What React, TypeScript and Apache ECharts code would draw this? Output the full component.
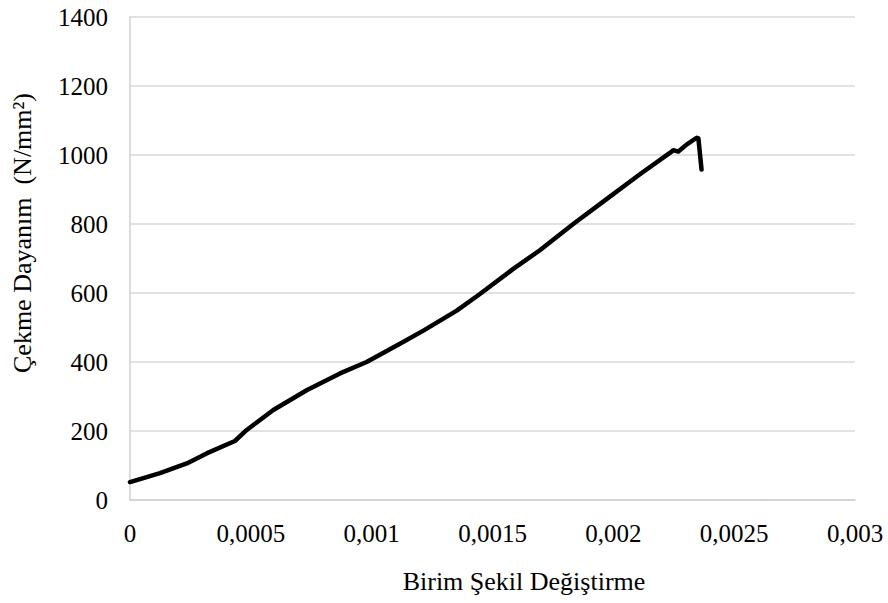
import React, { useEffect, useRef } from "react";
import * as echarts from "echarts";

const strain: number[] = [
  0, 0.000124, 0.000235, 0.000317, 0.000434, 0.000483, 0.000538, 0.000593,
  0.000731, 0.000869, 0.000979, 0.001117, 0.001214, 0.001352, 0.001448,
  0.001586, 0.001696, 0.001834, 0.001972, 0.00211, 0.002234, 0.002248,
  0.002269, 0.002303, 0.002345, 0.002352, 0.002365,
];
const stress: number[] = [
  52, 78, 106, 135, 171, 203, 232, 261, 318, 367, 400, 453, 491, 549, 597,
  670, 724, 800, 872, 944, 1006, 1014, 1010, 1030, 1050, 1048, 958,
];
const xTickLabels: string[] = ["0", "0,0005", "0,001", "0,0015", "0,002", "0,0025", "0,003"];
const yTickLabels: string[] = ["0", "200", "400", "600", "800", "1000", "1200", "1400"];
const xTitle = "Birim Şekil Değiştirme";
const yTitle = "Çekme Dayanım  (N/mm²)";

const FONT = '"Liberation Serif", "Times New Roman", serif';

export default function App() {
  const ref = useRef<HTMLDivElement>(null);
  useEffect(() => {
    if (!ref.current) return;
    const chart = echarts.init(ref.current, undefined, { renderer: "svg" });
    const data = strain.map((x, i) => [x, stress[i]]);
    chart.setOption({
      animation: false,
      backgroundColor: "#ffffff",
      grid: { left: 130, right: 33, top: 17, bottom: 103, containLabel: false },
      xAxis: {
        type: "value",
        min: 0,
        max: 0.003,
        interval: 0.0005,
        axisLine: { show: true, lineStyle: { color: "#d0d0d0", width: 1.5 } },
        axisTick: { show: false },
        splitLine: { show: false },
        axisLabel: {
          margin: 21,
          fontFamily: FONT,
          fontSize: 25,
          color: "#000",
          formatter: (v: number) => xTickLabels[Math.round(v / 0.0005)] ?? "",
        },
      },
      yAxis: {
        type: "value",
        min: 0,
        max: 1400,
        interval: 200,
        axisLine: { show: true, lineStyle: { color: "#d0d0d0", width: 1.5 } },
        axisTick: { show: false },
        splitLine: { show: true, lineStyle: { color: "#d9d9d9", width: 1.5 } },
        axisLabel: {
          margin: 22,
          fontFamily: FONT,
          fontSize: 25,
          color: "#000",
          formatter: (v: number) => yTickLabels[Math.round(v / 200)] ?? "",
        },
      },
      graphic: [
        {
          type: "text",
          x: 524,
          y: 581,
          style: {
            text: xTitle,
            fontFamily: FONT,
            fontSize: 26,
            fill: "#000",
            textAlign: "center",
            textVerticalAlign: "middle",
          },
        },
        {
          type: "text",
          x: 22,
          y: 233,
          rotation: Math.PI / 2,
          style: {
            text: yTitle,
            fontFamily: FONT,
            fontSize: 26,
            fill: "#000",
            textAlign: "center",
            textVerticalAlign: "middle",
          },
        },
      ],
      series: [
        {
          type: "line",
          data,
          showSymbol: false,
          symbol: "none",
          lineStyle: { color: "#000000", width: 4.5, join: "round", cap: "round" },
        },
      ],
    });
    return () => chart.dispose();
  }, []);
  return (
    <div
      ref={ref}
      style={{ position: "fixed", left: 0, top: 0, width: 888, height: 603, background: "#fff" }}
    />
  );
}
